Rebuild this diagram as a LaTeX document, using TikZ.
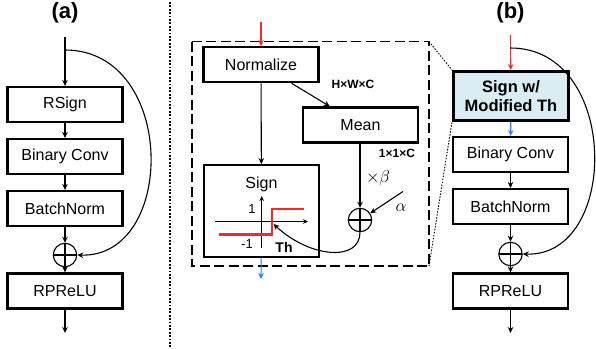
\documentclass[tikz,border=0pt]{standalone}
\usepackage{fontspec}
\setmainfont{Liberation Sans}
\usetikzlibrary{arrows.meta}
\definecolor{redarr}{HTML}{F52A2A}
\definecolor{bluearr}{HTML}{2A7FFF}
\definecolor{lightfill}{HTML}{DAEDF3}
\tikzset{
  blk/.style={draw, line width=2.1pt, minimum width=115pt, minimum height=35pt, inner sep=0pt, font=\fontsize{16}{18}\selectfont},
  conn/.style={line width=1.1pt, -{Stealth[length=6pt,width=5.5pt]}},
  oplus/.style={draw, circle, line width=1.1pt, minimum size=23.4pt, inner sep=0pt,
    path picture={\draw[line width=1.1pt] (path picture bounding box.north) -- (path picture bounding box.south)
      (path picture bounding box.west) -- (path picture bounding box.east);}},
  title/.style={font=\fontsize{22}{24}\selectfont\bfseries},
  dimlab/.style={font=\fontsize{12}{14}\selectfont\bfseries, inner sep=0pt},
  mathlab/.style={font=\fontsize{18}{20}\selectfont, inner sep=0pt},
}
\begin{document}
\begin{tikzpicture}[x=1pt,y=-1pt]
\useasboundingbox (0,0) rectangle (596,348);
\fill[white] (0,0) rectangle (596,348);

% ----- (a) -----
\node[title] (ta) at (65,13) {(a)};
\coordinate (ain) at (65,37);
\coordinate (askip) at (65,50);
\node[blk] (rsign) at (65,104.5) {RSign};
\node[blk] (bca) at (65,156.5) {Binary Conv};
\node[blk] (bna) at (65,208.5) {BatchNorm};
\node[oplus] (pa) at (65,255) {};
\node[blk] (rpa) at (65,291) {RPReLU};
\coordinate (aout) at (65,333);
\draw[conn] (ain) -- (rsign);
\draw[conn] (rsign) -- (bca);
\draw[conn] (bca) -- (bna);
\draw[conn] (bna) -- (pa);
\draw[conn] (pa) -- (rpa);
\draw[conn] (rpa) -- (aout);
\draw[conn] (askip) .. controls (177,50) and (177,258) .. (pa.east);

% ----- divider -----
\coordinate (dtop) at (170,2);
\coordinate (dbot) at (170,348);
\draw[line width=2pt, dash pattern=on 1.8pt off 1.6pt] (dtop) -- (dbot);

% ----- middle detail -----
\draw[line width=1.6pt, dash pattern=on 10pt off 4.5pt] (192,41.5) rectangle (429,266);
\coordinate (din) at (261,22);
\node[blk] (norm) at (261,64.8) {Normalize};
\node[blk] (mean) at (360.5,125) {Mean};
\node[blk, minimum height=91.7pt] (signbox) at (261.5,211) {};
\node[font=\fontsize{16}{18}\selectfont, inner sep=0pt] (signlab) at (261.5,184) {Sign};
\node[dimlab] (hwc) at (353,84) {H×W×C};
\node[dimlab] (oneonec) at (397,153) {1×1×C};
\node[oplus] (pm) at (360,220) {};
\node[mathlab] (beta) at (378,178.5) {$\times\beta$};
\coordinate (astart) at (403,191.5);
\node[mathlab] (alpha) at (401,208) {$\alpha$};
\coordinate (dout) at (261,279);

\draw[conn, redarr] (din) -- (norm);
\draw[conn] (norm) -- (mean);
\draw[conn] (norm) -- (signbox);
\draw[conn] (mean.south -| pm.north) -- (pm);
\draw[conn] (astart) -- (pm);
\draw[conn, bluearr] (signbox) -- (dout);

% sign plot
\draw[line width=1.1pt, -{Stealth[length=5pt,width=4.5pt]}] (215,221.5) -- (308,221.5);
\draw[line width=1.1pt, -{Stealth[length=5pt,width=4.5pt]}] (261.7,248) -- (261.7,196);
\node[font=\fontsize{13}{15}\selectfont, inner sep=0pt] (one) at (252,209.5) {1};
\node[font=\fontsize{13}{15}\selectfont, inner sep=0pt] (mone) at (247,244.5) {-1};
\node[font=\fontsize{14}{16}\selectfont\bfseries, inner sep=0pt] (th) at (284,247) {Th};
\draw[redarr, line width=2.4pt] (219,234.3) -- (271.7,234.3) -- (271.7,209) -- (304,209);
\coordinate (thpt) at (273.5,224);
\draw[conn] (pm.south) .. controls (360,262) and (310,258) .. (thpt);

% ----- (b) -----
\node[title] (tb) at (510.5,13) {(b)};
\coordinate (bin) at (510.5,35);
\coordinate (bskip) at (510.5,48);
\node[blk, fill=lightfill, line width=3pt, minimum height=49pt, align=center, font=\fontsize{16.5}{19}\selectfont\bfseries] (sgn) at (511,96) {Sign w/\\Modified Th};
\node[blk] (bcb) at (510.5,154.5) {Binary Conv};
\node[blk] (bnb) at (510.5,206.5) {BatchNorm};
\node[oplus] (pb) at (510.5,254) {};
\node[blk] (rpb) at (510.5,291) {RPReLU};
\coordinate (bout) at (510.5,333);
\draw[conn, redarr] (bin) -- (sgn);
\draw[conn, bluearr] (sgn) -- (bcb);
\draw[conn] (bcb) -- (bnb);
\draw[conn] (bnb) -- (pb);
\draw[conn] (pb) -- (rpb);
\draw[conn] (rpb) -- (bout);
\draw[conn] (bskip) .. controls (620,48) and (620,257) .. (pb.east);

% zoom lines
\draw[line width=0.9pt, dash pattern=on 1.5pt off 1.5pt] (429,41.5) -- (sgn.north west);
\draw[line width=0.9pt, dash pattern=on 1.5pt off 1.5pt] (429,266) -- (sgn.south west);
\end{tikzpicture}
\end{document}
